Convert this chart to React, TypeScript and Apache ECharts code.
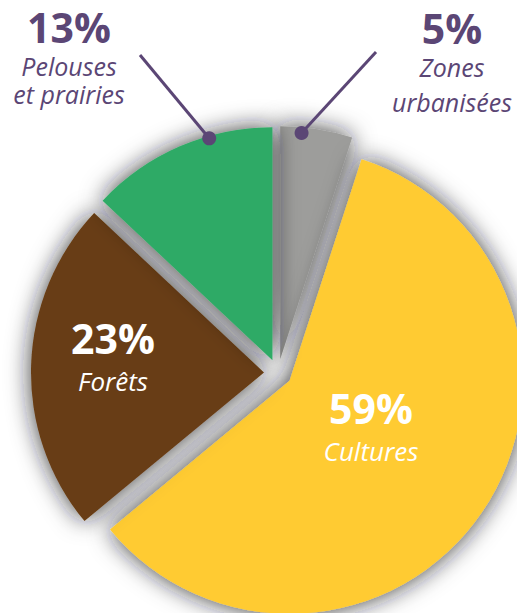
import React, { useEffect, useRef } from "react";
import * as echarts from "echarts";

const categories = ["Zones urbanisées", "Cultures", "Forêts", "Pelouses et prairies"];
const labelLines = [["Zones", "urbanisées"], ["Cultures"], ["Forêts"], ["Pelouses", "et prairies"]];
const values = [5, 59, 23, 13];
const colors = ["#9d9d9b", "#ffcb31", "#683d12", "#2eaa66"];

const PURPLE = "#5b4675";
const FONT = "'Open Sans', 'Noto Sans', sans-serif";
const CENTER = [278, 373];
const RADIUS = 233;
const OFFSET = 14;
// label layout per slice: x centre, y centres of each line (percent first), colour, name font size
const LABELS = [
  { x: 452, ys: [28, 67, 102], color: PURPLE, nfs: 25 },
  { x: 371, ys: [408, 451], color: "#ffffff", nfs: 26 },
  { x: 113, ys: [338, 381], color: "#ffffff", nfs: 26 },
  { x: 69, ys: [27, 66, 94], color: PURPLE, nfs: 25 },
];
// leader line: slice index, fraction along slice angle, radius fraction, end point
const LEADERS = [
  { idx: 3, frac: 0.66, rf: 0.99, end: [140, 55] },
  { idx: 0, frac: 0.3, rf: 0.975, end: [376, 52] },
];

function pointOnSlice(idx: number, frac: number, rf: number) {
  const total = values.reduce((a, b) => a + b, 0);
  let start = 0;
  for (let i = 0; i < idx; i++) start += (values[i] / total) * 360;
  const span = (values[idx] / total) * 360;
  const mid = ((start + span / 2) * Math.PI) / 180;
  const cx = CENTER[0] + OFFSET * Math.sin(mid);
  const cy = CENTER[1] - OFFSET * Math.cos(mid);
  const a = ((start + span * frac) * Math.PI) / 180;
  return [cx + RADIUS * rf * Math.sin(a), cy - RADIUS * rf * Math.cos(a)];
}

export default function App() {
  const ref = useRef<HTMLDivElement>(null);
  useEffect(() => {
    if (!ref.current) return;
    const chart = echarts.init(ref.current, null, { renderer: "svg" });
    const graphics: any[] = [];
    LEADERS.forEach((l) => {
      const p = pointOnSlice(l.idx, l.frac, l.rf);
      graphics.push({
        type: "line",
        z: 100,
        shape: { x1: p[0], y1: p[1], x2: l.end[0], y2: l.end[1] },
        style: { stroke: PURPLE, lineWidth: 3 },
      });
      graphics.push({
        type: "circle",
        z: 101,
        shape: { cx: p[0], cy: p[1], r: 7 },
        style: { fill: PURPLE },
      });
    });
    values.forEach((v, i) => {
      const L = LABELS[i];
      graphics.push({
        type: "text",
        z: 102,
        x: L.x,
        y: L.ys[0],
        style: {
          text: `${v}%`,
          fontFamily: FONT,
          fontSize: 41,
          fontWeight: "bold",
          fill: L.color,
          align: "center",
          verticalAlign: "middle",
        },
      });
      labelLines[i].forEach((t, j) => {
        graphics.push({
          type: "text",
          z: 102,
          x: L.x,
          y: L.ys[j + 1],
          style: {
            text: t,
            fontFamily: FONT,
            fontSize: L.nfs,
            fontStyle: "italic",
            fill: L.color,
            align: "center",
            verticalAlign: "middle",
          },
        });
      });
    });
    chart.setOption({
      animation: false,
      backgroundColor: "#ffffff",
      graphic: graphics,
      series: [
        {
          type: "pie",
          center: CENTER,
          radius: [0, RADIUS],
          startAngle: 90,
          clockwise: true,
          selectedMode: "multiple",
          selectedOffset: OFFSET,
          avoidLabelOverlap: false,
          silent: true,
          emphasis: { disabled: true },
          itemStyle: {
            shadowBlur: 24,
            shadowColor: "rgba(25,20,35,0.85)",
          },
          label: { show: false },
          labelLine: { show: false },
          data: categories.map((name, i) => ({
            name,
            value: values[i],
            selected: true,
            itemStyle: { color: colors[i] },
          })),
        },
      ],
    });
    return () => chart.dispose();
  }, []);
  return <div ref={ref} style={{ position: "fixed", left: 0, top: 0, width: 517, height: 613 }} />;
}
